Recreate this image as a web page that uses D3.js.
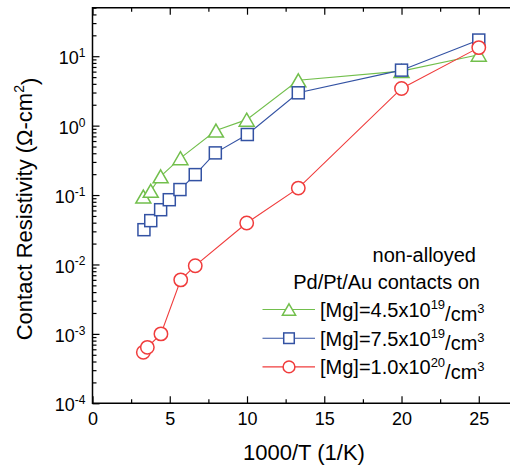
<!DOCTYPE html>
<html lang="en">
<head>
<meta charset="utf-8">
<title>Contact Resistivity</title>
<script src="https://cdn.jsdelivr.net/npm/d3@7"></script>
<style>
  body { margin: 0; background: #fff; }
  svg { display: block; font-family: "Liberation Sans", Arial, sans-serif; }
</style>
</head>
<body>
<script>
// data (x = 1000/T, y = contact resistivity in ohm-cm2)
var xMg45 = [3.29, 3.77, 4.41, 5.69, 7.99, 9.98, 13.32, 20.0, 25.0];
var yMg45 = [0.095, 0.115, 0.186, 0.34, 0.85, 1.22, 4.5, 6.1, 10.5];

var xMg75 = [3.33, 3.77, 4.41, 4.97, 5.66, 6.65, 7.95, 10.02, 13.32, 20.0, 25.0];
var yMg75 = [0.0317, 0.0428, 0.0615, 0.0857, 0.12, 0.197, 0.405, 0.745, 2.97, 6.3, 17.1];

var xMg100 = [3.29, 3.55, 4.43, 5.71, 6.65, 9.98, 13.32, 20.0, 25.0];
var yMg100 = [0.000545, 0.00064, 0.001, 0.006, 0.0096, 0.0395, 0.126, 3.43, 13.3];

var seriesNames = ["[Mg]=4.5x10|19|/cm|3", "[Mg]=7.5x10|19|/cm|3", "[Mg]=1.0x10|20|/cm|3"];
var seriesColors = ["#72bf4c", "#3352a3", "#f03c3c"];
var seriesShapes = ["triangle", "square", "circle"];

var xTicks = [0, 5, 10, 15, 20, 25];
var yTicks = [1e-4, 1e-3, 1e-2, 1e-1, 1, 10];

var w = 510, h = 465;
var svg = d3.select("body").append("svg").attr("width", w).attr("height", h);

var x = d3.scaleLinear().domain([0, 27.5]).range([92.5, 517.4]);
var y = d3.scaleLog().domain([1e-4, 50]).range([403.3, 7.7]);

// minor ticks
var xMinor = d3.range(2.5, 27.5, 5);
var yMinor = [];
for (var e = -4; e <= 1; e++) {
  for (var m = 2; m <= 9; m++) {
    var v = m * Math.pow(10, e);
    if (v <= 50) yMinor.push(v);
  }
}

// frame
svg.append("path")
  .attr("d", "M" + x.range()[1] + "," + y.range()[1] + "H" + x.range()[0] + "V" + y.range()[0] + "H" + x.range()[1])
  .attr("fill", "none").attr("stroke", "#000").attr("stroke-width", 1.5);

function styleAxis(g) {
  g.select(".domain").remove();
  g.selectAll(".tick line").attr("stroke", "#000").attr("stroke-width", 1.2);
  g.selectAll("text").attr("font-size", 18).attr("fill", "#000")
    .attr("font-family", "'Liberation Sans', Arial, sans-serif");
}

// bottom axis
svg.append("g").attr("transform", "translate(0," + y.range()[0] + ")")
  .call(d3.axisBottom(x).tickValues(xTicks).tickSize(-7).tickPadding(9).tickFormat(d3.format("d")))
  .call(styleAxis);
svg.append("g").attr("transform", "translate(0," + y.range()[0] + ")")
  .call(d3.axisBottom(x).tickValues(xMinor).tickSize(-4).tickFormat(""))
  .call(styleAxis);

// top axis
svg.append("g").attr("transform", "translate(0," + y.range()[1] + ")")
  .call(d3.axisTop(x).tickValues(xTicks).tickSize(-7).tickFormat(""))
  .call(styleAxis);
svg.append("g").attr("transform", "translate(0," + y.range()[1] + ")")
  .call(d3.axisTop(x).tickValues(xMinor).tickSize(-4).tickFormat(""))
  .call(styleAxis);

// left axis
var yAxisG = svg.append("g").attr("transform", "translate(" + x.range()[0] + ",0)")
  .call(d3.axisLeft(y).tickValues(yTicks).tickSize(-7).tickPadding(7))
  .call(styleAxis);
yAxisG.selectAll(".tick text").each(function(d) {
  var t = d3.select(this);
  t.text("").attr("dy", "0.42em");
  t.append("tspan").text("10");
  t.append("tspan").attr("dy", "-0.6em").attr("font-size", 12).text(Math.round(Math.log10(d)));
});
svg.append("g").attr("transform", "translate(" + x.range()[0] + ",0)")
  .call(d3.axisLeft(y).tickValues(yMinor).tickSize(-4).tickFormat(""))
  .call(styleAxis);

// axis titles
svg.append("text")
  .attr("x", 304).attr("y", 460)
  .attr("text-anchor", "middle").attr("font-size", 22)
  .text("1000/T (1/K)");

var yt = svg.append("text")
  .attr("transform", "translate(32,209) rotate(-90)")
  .attr("text-anchor", "middle").attr("font-size", 22);
yt.append("tspan").text("Contact Resistivity (\u03A9-cm");
yt.append("tspan").attr("dy", "-0.6em").attr("font-size", 14).text("2");
yt.append("tspan").attr("dy", "0.6em").text(")");

// markers
function drawMarker(g, shape, color, cx, cy, s) {
  if (shape === "triangle") {
    g.append("path")
      .attr("d", "M" + cx + "," + (cy - 6.5 * s) + "L" + (cx + 7.5 * s) + "," + (cy + 6.5 * s) + "L" + (cx - 7.5 * s) + "," + (cy + 6.5 * s) + "Z")
      .attr("fill", "#fff").attr("stroke", color).attr("stroke-width", 1.5);
  } else if (shape === "square") {
    g.append("rect")
      .attr("x", cx - 6 * s).attr("y", cy - 6 * s).attr("width", 12 * s).attr("height", 12 * s)
      .attr("fill", "#fff").attr("stroke", color).attr("stroke-width", 1.5);
  } else {
    g.append("circle")
      .attr("cx", cx).attr("cy", cy).attr("r", 6.7 * s)
      .attr("fill", "#fff").attr("stroke", color).attr("stroke-width", 1.5);
  }
}

var allX = [xMg45, xMg75, xMg100];
var allY = [yMg45, yMg75, yMg100];

var line = d3.line().x(function(d) { return x(d[0]); }).y(function(d) { return y(d[1]); });

allX.forEach(function(xs, i) {
  var pts = xs.map(function(v, j) { return [v, allY[i][j]]; });
  var g = svg.append("g");
  g.append("path").datum(pts).attr("d", line)
    .attr("fill", "none").attr("stroke", seriesColors[i]).attr("stroke-width", 1.1);
  pts.forEach(function(p) {
    drawMarker(g, seriesShapes[i], seriesColors[i], x(p[0]), y(p[1]), 1);
  });
});

// legend
svg.append("text").attr("x", 476).attr("y", 262).attr("text-anchor", "end")
  .attr("font-size", 20).text("non-alloyed");
svg.append("text").attr("x", 480).attr("y", 289).attr("text-anchor", "end")
  .attr("font-size", 20).text("Pd/Pt/Au contacts on");

seriesNames.forEach(function(name, i) {
  var ly = 309.5 + i * 28.7;
  var g = svg.append("g");
  g.append("line").attr("x1", 262.5).attr("x2", 315).attr("y1", ly).attr("y2", ly)
    .attr("stroke", seriesColors[i]).attr("stroke-width", 1.1);
  drawMarker(g, seriesShapes[i], seriesColors[i], 289, ly, 0.88);
  var parts = name.split("|");
  var t = g.append("text").attr("x", 320).attr("y", ly + 7.5).attr("font-size", 20);
  t.append("tspan").text(parts[0]);
  t.append("tspan").attr("dy", "-0.6em").attr("font-size", 13).text(parts[1]);
  t.append("tspan").attr("dy", "0.6em").text(parts[2]);
  t.append("tspan").attr("dy", "-0.6em").attr("font-size", 13).text(parts[3]);
});
</script>
</body>
</html>
